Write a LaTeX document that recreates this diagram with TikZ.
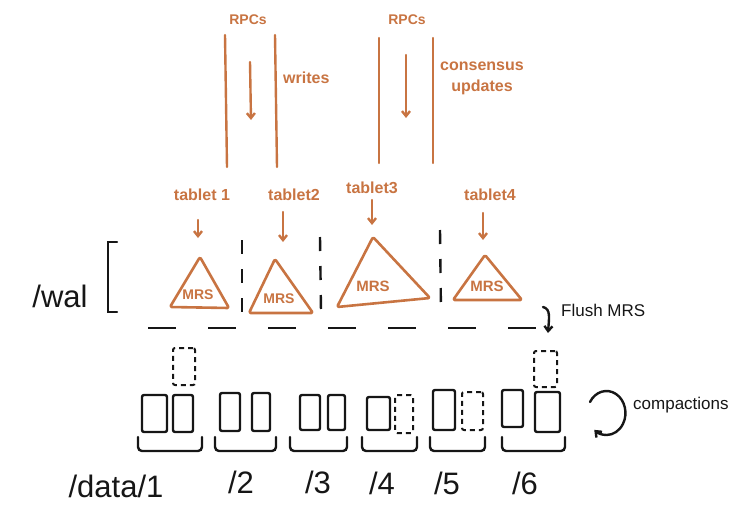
\documentclass[tikz,border=0pt]{standalone}
\usepackage{fontspec}
\setmainfont{Liberation Sans}
\usetikzlibrary{arrows.meta}
\definecolor{rust}{RGB}{200,116,66}
\definecolor{ink}{RGB}{22,22,22}
\begin{document}
\begin{tikzpicture}[x=1pt,y=-1pt,
  olin/.style={draw=rust, line width=2.4pt, line cap=round},
  oarr/.style={olin, -{Straight Barb[length=5pt,width=8pt]}},
  otxt/.style={text=rust, inner sep=0pt, font=\bfseries\fontsize{16}{21}\selectfont},
  mrs/.style={text=rust, inner sep=0pt, font=\bfseries\fontsize{14}{16}\selectfont},
  tri/.style={draw=rust, line width=2.6pt, line join=round, rounded corners=1.5pt},
  klin/.style={draw=ink, line width=2.4pt, line cap=round},
  karr/.style={klin, -{Straight Barb[length=5pt,width=8pt]}},
  kvdash/.style={klin, line cap=butt, dash pattern=on 14pt off 15pt},
  khdash/.style={klin, line cap=butt, dash pattern=on 28pt off 32pt},
  ktxt/.style={text=ink, inner sep=0pt, font=\fontsize{17}{20}\selectfont},
  bigtxt/.style={text=ink, inner sep=0pt, font=\fontsize{31}{34}\selectfont},
  box/.style={draw=ink, line width=2.4pt, rounded corners=2pt, inner sep=0pt},
  dbox/.style={box, line width=2pt, dash pattern=on 5pt off 4pt},
  brace/.style={klin, rounded corners=4pt}
]
\useasboundingbox (0,0) rectangle (747,509);

% --- RPC channels ---
\node[otxt, font=\bfseries\fontsize{14}{16}\selectfont] (rpc1) at (248,20) {RPCs};
\node[otxt, font=\bfseries\fontsize{14}{16}\selectfont] (rpc2) at (407,20) {RPCs};
\coordinate (l1a) at (225,35);  \coordinate (l1b) at (227,167);
\coordinate (l2a) at (275,35);  \coordinate (l2b) at (277,167);
\coordinate (l3a) at (379,38);  \coordinate (l3b) at (379,163);
\coordinate (l4a) at (433,38);  \coordinate (l4b) at (433,163);
\draw[olin] (l1a) -- (l1b);
\draw[olin] (l2a) -- (l2b);
\draw[olin] (l3a) -- (l3b);
\draw[olin] (l4a) -- (l4b);
\coordinate (w1) at (250,62);  \coordinate (w2) at (251,120);
\coordinate (c1) at (406,55);  \coordinate (c2) at (406,118);
\draw[oarr] (w1) -- (w2);
\draw[oarr] (c1) -- (c2);
\node[otxt, anchor=west] (writes) at (283,78) {writes};
\node[otxt, align=center] (cons) at (482,78) {consensus\\updates};

% --- tablets ---
\node[otxt] (tab1) at (202,195) {tablet 1};
\node[otxt] (tab2) at (294,195) {tablet2};
\node[otxt] (tab3) at (372,188) {tablet3};
\node[otxt] (tab4) at (490,195) {tablet4};
\coordinate (a1s) at (198,220); \coordinate (a1e) at (198,238);
\coordinate (a2s) at (283,212); \coordinate (a2e) at (283,242);
\coordinate (a3s) at (372,200); \coordinate (a3e) at (372,225);
\coordinate (a4s) at (483,213); \coordinate (a4e) at (483,240);
\draw[oarr] (a1s) -- (a1e);
\draw[oarr] (a2s) -- (a2e);
\draw[oarr] (a3s) -- (a3e);
\draw[oarr] (a4s) -- (a4e);

% --- MRS triangles ---
\draw[tri] (200,257) -- (229,308) -- (170,307) -- cycle;
\draw[tri] (275,259) -- (313,313) -- (249,313) -- cycle;
\draw[tri] (373,237) -- (430,298) -- (337,307) -- cycle;
\draw[tri] (485,255) -- (522,300) -- (453,300) -- cycle;
\node[mrs] (m1) at (198,295) {MRS};
\node[mrs] (m2) at (279,299) {MRS};
\node[mrs, font=\bfseries\fontsize{15}{16}\selectfont] (m3) at (373,286) {MRS};
\node[mrs, font=\bfseries\fontsize{15}{16}\selectfont] (m4) at (487,286) {MRS};

% --- WAL separators ---
\coordinate (v1a) at (242,240); \coordinate (v1b) at (242,317);
\coordinate (v2a) at (320,237); \coordinate (v2b) at (321,312);
\coordinate (v3a) at (440,230); \coordinate (v3b) at (441,313);
\draw[kvdash] (v1a) -- (v1b);
\draw[kvdash] (v2a) -- (v2b);
\draw[kvdash] (v3a) -- (v3b);
\coordinate (h1) at (148,328); \coordinate (h2) at (537,328);
\draw[khdash] (h1) -- (h2);

\node[bigtxt] (wal) at (60,296) {/wal};
\draw[klin] (117,242) -- (108,242) -- (108,312) -- (117,312);

% flush
\coordinate (f1) at (543,307); \coordinate (f2) at (548,333);
\draw[karr] (f1) .. controls (551,309) and (549,318) .. (f2);
\node[ktxt, anchor=west] (flush) at (561,310) {Flush MRS};

% --- data dirs ---
\node[box,  minimum width=25pt, minimum height=37pt] (b1a) at (154.5,413.5) {};
\node[box,  minimum width=20pt, minimum height=37pt] (b1b) at (183,413.5) {};
\node[dbox, minimum width=22pt, minimum height=37pt] (n1)  at (184,366.5) {};

\node[box,  minimum width=20pt, minimum height=38pt] (b2a) at (230,412) {};
\node[box,  minimum width=18pt, minimum height=38pt] (b2b) at (261,412) {};

\node[box,  minimum width=20pt, minimum height=35pt] (b3a) at (310,412.5) {};
\node[box,  minimum width=17pt, minimum height=35pt] (b3b) at (336.5,412.5) {};

\node[box,  minimum width=23pt, minimum height=33pt] (b4a) at (378.5,413.5) {};
\node[dbox, minimum width=18pt, minimum height=38pt] (b4b) at (404,414) {};

\node[box,  minimum width=22pt, minimum height=40pt] (b5a) at (444,410) {};
\node[dbox, minimum width=21pt, minimum height=38pt] (b5b) at (472.5,411) {};

\node[box,  minimum width=21pt, minimum height=37pt] (b6a) at (512.5,408.5) {};
\node[box,  minimum width=25pt, minimum height=40pt] (b6b) at (547.5,412) {};
\node[dbox, minimum width=23pt, minimum height=36pt] (n6)  at (545.5,369) {};

\draw[brace] (138,437) -- (138,451) -- (202,451) -- (202,437);
\draw[brace] (215,437) -- (215,451) -- (276,451) -- (276,437);
\draw[brace] (290,437) -- (290,451) -- (347,451) -- (347,437);
\draw[brace] (362,437) -- (362,451) -- (417,451) -- (417,437);
\draw[brace] (430,437) -- (430,451) -- (485,451) -- (485,437);
\draw[brace] (502,437) -- (502,451) -- (565,451) -- (565,437);

\node[bigtxt] (d1) at (116,486) {/data/1};
\node[bigtxt] (d2) at (241,482) {/2};
\node[bigtxt] (d3) at (318,482) {/3};
\node[bigtxt] (d4) at (382,483) {/4};
\node[bigtxt] (d5) at (447,483) {/5};
\node[bigtxt] (d6) at (525,483) {/6};

% compactions
\coordinate (cmp) at (590,402);
\draw[karr] (cmp) arc[start angle=210, end angle=490, x radius=19, y radius=22];
\node[ktxt, anchor=west] (compact) at (633,405) {compactions};
\end{tikzpicture}
\end{document}
